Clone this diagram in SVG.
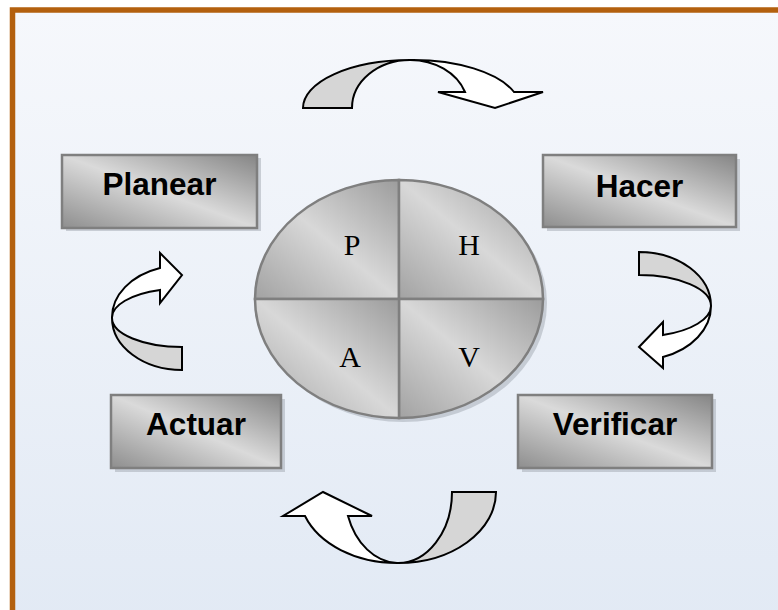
<svg xmlns="http://www.w3.org/2000/svg" width="778" height="610" viewBox="0 0 778 610">
  <defs>
    <linearGradient id="bg" x1="0" y1="0" x2="0" y2="1">
      <stop offset="0" stop-color="#f6f8fc"/>
      <stop offset="1" stop-color="#e1e9f4"/>
    </linearGradient>
    <linearGradient id="metal" x1="0" y1="1" x2="1" y2="0">
      <stop offset="0" stop-color="#8e8e8e"/>
      <stop offset="0.5" stop-color="#dadada"/>
      <stop offset="1" stop-color="#858585"/>
    </linearGradient>
    <linearGradient id="metalSoft" x1="0" y1="1" x2="1" y2="0">
      <stop offset="0" stop-color="#a2a2a2"/>
      <stop offset="0.5" stop-color="#d8d8d8"/>
      <stop offset="1" stop-color="#9c9c9c"/>
    </linearGradient>
    <style>
      .box { fill: url(#metal); stroke: #7f7f7f; stroke-width: 2.5; }
      .shadow { fill: #9aa0a8; opacity: 0.45; }
      .lbl { font-family: "Liberation Sans", Arial, sans-serif; font-weight: bold; font-size: 31.5px; fill: #000; text-anchor: middle; }
      .q { fill: url(#metalSoft); stroke: #7f7f7f; stroke-width: 2.5; }
      .qt { font-family: "Liberation Serif", "Times New Roman", serif; font-size: 30px; fill: #000; text-anchor: middle; }
      .back { fill: #d6d6d6; stroke: #000; stroke-width: 2; stroke-linejoin: miter; }
      .front { fill: #ffffff; stroke: #000; stroke-width: 2; stroke-linejoin: miter; }
    </style>
  </defs>

  <rect x="0" y="0" width="778" height="610" fill="#ffffff"/>
  <rect x="12.5" y="10" width="800" height="640" fill="url(#bg)" stroke="#b3600e" stroke-width="5.5"/>

  <g id="connectors">
    <g id="arrow-top">
      <path class="back" d="M 303,108 A 107,48 0 0 1 410,60 A 58,48 0 0 0 352,108 Z"/>
      <path class="front" d="M 410,60 A 107,48 0 0 1 514,92 L 543,92 L 495,108 L 438,92 L 465,92 A 58,48 0 0 0 410,60 Z"/>
    </g>
    <g id="arrow-right">
      <path class="back" d="M 639,252 A 72,54 0 0 1 711,306 A 72,31 0 0 0 639,275 Z"/>
      <path class="front" d="M 711,306 A 72,54 0 0 1 663,357 L 663,368 L 639,347 L 663,322 L 663,335 A 72,31 0 0 0 711,306 Z"/>
    </g>
    <g id="arrow-bottom">
      <path class="back" d="M 496,492 A 98,71 0 0 1 397,563 A 54,71 0 0 0 452,492 Z"/>
      <path class="front" d="M 397,563 A 98,71 0 0 1 305,516 L 283,516 L 323,492 L 372,516 L 348,516 A 54,71 0 0 0 397,563 Z"/>
    </g>
    <g id="arrow-left">
      <path class="back" d="M 182,370 A 70,52 0 0 1 112,318 A 70,29 0 0 0 182,347 Z"/>
      <path class="front" d="M 112,318 A 70,52 0 0 1 160,268 L 160,253 L 182,275 L 160,303 L 160,290 A 70,29 0 0 0 112,318 Z"/>
    </g>
  </g>

  <g id="node-planear">
    <rect class="shadow" x="66" y="158" width="195" height="73"/>
    <rect class="box" x="62" y="155" width="195" height="73"/>
    <text class="lbl" x="159.5" y="195">Planear</text>
  </g>
  <g id="node-hacer">
    <rect class="shadow" x="547" y="159" width="193" height="72"/>
    <rect class="box" x="543" y="155" width="193" height="72"/>
    <text class="lbl" x="639.5" y="196.5">Hacer</text>
  </g>
  <g id="node-verificar">
    <rect class="shadow" x="522" y="399" width="194" height="73"/>
    <rect class="box" x="518" y="395" width="194" height="73"/>
    <text class="lbl" x="615" y="435">Verificar</text>
  </g>
  <g id="node-actuar">
    <rect class="shadow" x="115" y="399" width="170" height="73"/>
    <rect class="box" x="111" y="395" width="170" height="73"/>
    <text class="lbl" x="196" y="435">Actuar</text>
  </g>

  <g id="node-cycle">
    <ellipse class="shadow" cx="403" cy="303" rx="144" ry="119"/>
    <path class="q" d="M 399,299 L 255,299 A 144,119 0 0 1 399,180 Z"/>
    <path class="q" d="M 399,299 L 399,180 A 144,119 0 0 1 543,299 Z"/>
    <path class="q" d="M 399,299 L 543,299 A 144,119 0 0 1 399,418 Z"/>
    <path class="q" d="M 399,299 L 399,418 A 144,119 0 0 1 255,299 Z"/>
    <text class="qt" x="352" y="255">P</text>
    <text class="qt" x="469" y="255">H</text>
    <text class="qt" x="350" y="367">A</text>
    <text class="qt" x="469" y="367">V</text>
  </g>
</svg>
